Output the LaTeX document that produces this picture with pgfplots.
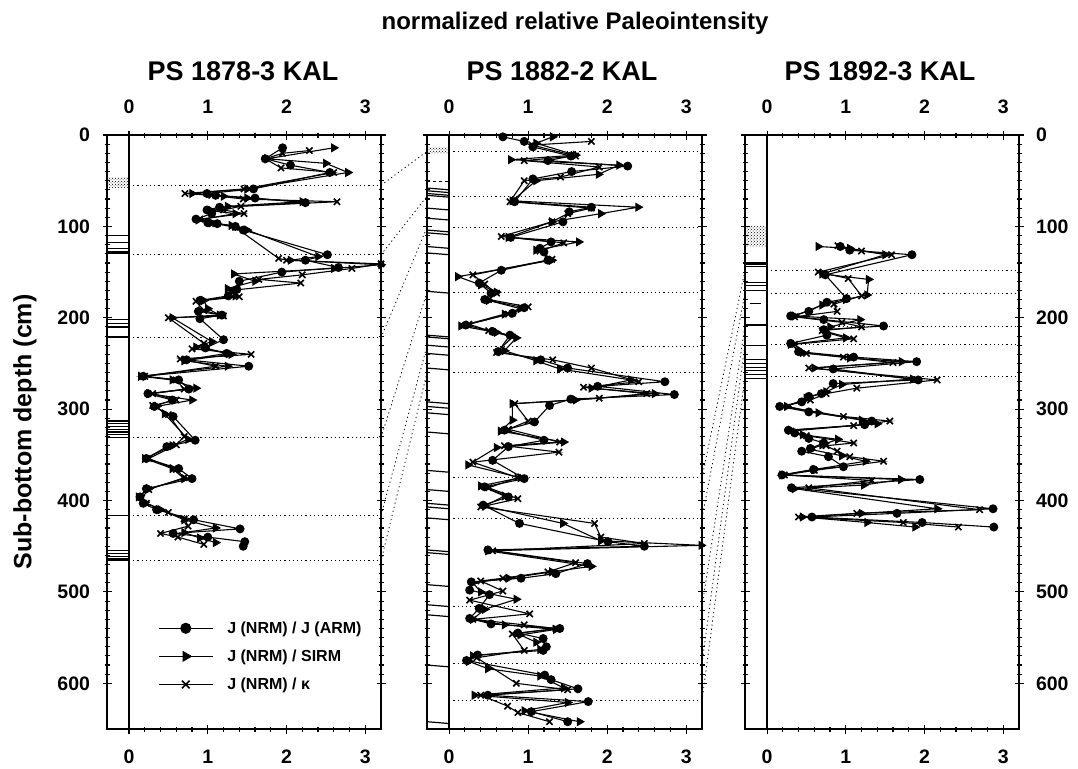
\documentclass[border=0pt]{standalone}
\usepackage{fontspec}
\setmainfont{Liberation Sans}
\usepackage{pgfplots}
\pgfplotsset{compat=1.18}
\usetikzlibrary{patterns}

\tikzset{
  corr/.style={black, line width=0.8pt, dash pattern=on 1.2pt off 3pt},
  litho/.style={black, line width=1.2pt},
}
\pgfplotsset{
  panel/.style={
    scale only axis, width=274pt, height=594pt,
    xmin=-0.28, xmax=3.2, ymin=0, ymax=650, y dir=reverse,
    xtick={0,1,2,3}, minor x tick num=4,
    ytick={0,100,...,600}, minor y tick num=9,
    tick align=center, major tick length=9pt, minor tick length=5pt,
    axis line style={line width=1.4pt},
    every tick/.style={black, line width=1.1pt},
    /pgf/number format/assume math mode=true,
    tick label style={font=\bfseries\fontsize{19.5}{20}\selectfont},
    xticklabel shift=13pt, yticklabel shift=9pt,
    clip=false,
  },
  toplabels/.style={
    panel, axis x line*=top, axis y line=none, xticklabel shift=13pt,
  },
  armS/.style={black, line width=1.1pt, mark=*, mark size=3.9pt},
  sirmS/.style={black, line width=1.1pt, mark=triangle*, mark size=4.3pt, mark options={rotate=-90}},
  kapS/.style={black, line width=1.1pt, mark=x, mark size=4.4pt, mark options={line width=1.6pt}},
}

\begin{document}
\begin{tikzpicture}[x=1pt,y=1pt]
\useasboundingbox (0,0) rectangle (1078,-768);

\node[font=\bfseries\fontsize{24}{24}\selectfont, anchor=base] at (575,-30) {normalized relative Paleointensity};
\node[font=\bfseries\fontsize{27}{27}\selectfont, anchor=base] at (243,-80) {PS 1878-3 KAL};
\node[font=\bfseries\fontsize{27}{27}\selectfont, anchor=base] at (562,-80) {PS 1882-2 KAL};
\node[font=\bfseries\fontsize{27}{27}\selectfont, anchor=base] at (880,-80) {PS 1892-3 KAL};
\node[rotate=90, font=\bfseries\fontsize{25}{25}\selectfont] at (25,-432) {Sub-bottom depth (cm)};

% ---------------- PS 1878-3 KAL ----------------
\begin{axis}[toplabels, at={(107pt,-729pt)}, anchor=south west]
\addplot[draw=none] coordinates {(0,0)};
\end{axis}
\begin{axis}[panel, at={(107pt,-729pt)}, anchor=south west,
  legend style={at={(axis cs:0.33,528)}, anchor=north west, draw=none, fill=none,
    font=\bfseries\fontsize{16}{16}\selectfont, row sep=11pt,
    /tikz/every odd column/.append style={column sep=12pt}},
  legend cell align=left,
  legend image code/.code={\draw[mark repeat=2,mark phase=2] plot coordinates {(0pt,0pt) (27pt,0pt) (54pt,0pt)};}]
% core description column
\fill[pattern=crosshatch dots] (axis cs:-0.28,47) rectangle (axis cs:0,57);
\pgfplotsinvokeforeach{110,118,124,128,130,202,206,210,221,313,316,319,322,325,328,331,416,455,458,461,464,466}{
  \draw[litho] (axis cs:-0.28,#1) -- (axis cs:0,#1);
}
\draw[line width=1.4pt] (axis cs:0,0) -- (axis cs:0,650);
\pgfplotsinvokeforeach{55,131,222,331,416,466}{
  \draw[corr] (axis cs:0,#1) -- (axis cs:3.2,#1);
  \coordinate (A-#1) at (axis cs:3.2,#1);
}
\addplot[armS, forget plot] coordinates {
(1.95,14) (1.73,26) (2.05,33) (2.55,41) (1.58,59) (0.99,64) (1.10,66) (1.60,69)
(2.24,74) (1.15,79) (0.99,82) (1.05,86) (0.85,92) (1.00,96) (1.12,97) (1.35,100)
(1.45,104) (2.52,131) (2.24,137) (2.66,145) (1.94,150) (1.40,160) (1.37,169) (1.26,176)
(0.90,181) (0.88,193) (1.18,197) (0.90,201) (1.20,224) (0.97,233) (1.24,239) (0.73,246)
(1.52,253) (0.18,264) (0.63,268) (0.76,278) (0.24,283) (0.55,290) (0.32,297) (0.56,308)
(0.84,334) (0.48,341) (0.22,354) (0.63,365) (0.80,376) (0.22,387) (0.14,396) (0.18,403)
(0.35,410) (0.82,421) (1.41,431) (0.56,436) (1.00,440) (1.47,445) (1.45,450)};
\addplot[sirmS, forget plot] coordinates {
(2.60,14) (1.75,26) (2.50,31) (2.78,41) (1.50,59) (0.80,64) (1.20,67) (1.50,69)
(2.20,73) (1.25,78) (1.05,83) (1.35,86) (0.88,93) (1.05,96) (1.30,99) (1.50,104)
(2.40,133) (2.05,137) (3.20,142) (2.60,146) (1.33,152) (1.60,160) (1.25,168) (1.35,176)
(0.95,181) (1.00,190) (1.15,197) (0.55,200) (1.05,226) (0.85,232) (1.30,240) (0.70,247)
(1.25,253) (0.15,264) (0.55,268) (0.85,277) (0.25,283) (0.80,290) (0.35,297) (0.45,305)
(0.75,333) (0.55,340) (0.20,354) (0.55,365) (0.70,376) (0.25,387) (0.12,396) (0.20,402)
(0.40,410) (0.70,421) (1.10,430) (0.70,435) (0.90,441) (1.10,446)};
\addplot[kapS, forget plot] coordinates {
(2.29,17) (1.95,20) (1.73,26) (1.93,36) (2.60,41) (1.46,59) (0.71,64) (1.05,66)
(1.45,70) (2.64,73) (1.42,78) (1.20,82) (1.46,86) (0.90,92) (1.10,97) (1.35,101)
(1.90,135) (2.00,137) (3.20,141) (2.83,146) (2.20,153) (1.65,158) (2.18,162) (1.30,170)
(1.40,177) (0.85,182) (0.95,192) (1.20,198) (0.50,200) (0.95,228) (0.80,234) (1.55,240)
(0.65,245) (1.10,253) (0.20,264) (0.60,268) (0.70,278) (0.30,283) (0.60,290) (0.30,296)
(0.50,306) (0.70,330) (0.60,339) (0.25,354) (0.60,366) (0.70,375) (0.25,388) (0.16,397)
(0.22,403) (0.50,413) (0.70,420) (0.75,428) (0.40,436) (0.62,440) (0.95,448)};
\addlegendimage{armS, mark size=5pt}
\addlegendentry{J (NRM) / J (ARM)}
\addlegendimage{sirmS, mark size=5.4pt}
\addlegendentry{J (NRM) / SIRM}
\addlegendimage{kapS, mark size=5.4pt}
\addlegendentry{J (NRM) / κ}
\end{axis}

% ---------------- PS 1882-2 KAL ----------------
\begin{axis}[toplabels, at={(427pt,-729pt)}, anchor=south west, width=275pt]
\addplot[draw=none] coordinates {(0,0)};
\end{axis}
\begin{axis}[panel, at={(427pt,-729pt)}, anchor=south west, width=275pt, yticklabels={}]
\fill[pattern=crosshatch dots] (axis cs:-0.28,14) rectangle (axis cs:0,20);
\draw[litho, dashed] (axis cs:-0.28,51) -- (axis cs:0,51);
\pgfplotsinvokeforeach{58,61,64,66,80,91,104,107,122,129,171,219,221,230,239,255,292,297,304,325,367,388,403,407,419,454,457,492,514,525,580,642}{
  \draw[litho] (axis cs:-0.28,#1) -- (axis cs:0,#1+2);
}
\draw[line width=1.4pt] (axis cs:0,0) -- (axis cs:0,650);
\pgfplotsinvokeforeach{18,67,101,172,231,260,375,419,516,578,619}{
  \draw[corr] (axis cs:0,#1) -- (axis cs:3.2,#1);
  \coordinate (BL-#1) at (axis cs:-0.28,#1);
  \coordinate (BR-#1) at (axis cs:3.2,#1);
}
\addplot[armS] coordinates {
(0.68,2) (0.95,7) (1.06,13) (1.54,23) (1.25,28) (2.26,34) (1.55,40) (1.06,48)
(0.83,73) (1.80,79) (1.52,84) (1.44,95) (0.78,112) (1.29,117) (1.15,124) (1.20,128)
(1.25,137) (0.66,148) (0.38,162) (0.53,173) (0.45,180) (0.95,189) (0.80,195) (0.21,208)
(0.55,215) (0.77,219) (0.62,237) (1.16,246) (1.50,255) (2.73,270) (1.88,275) (2.85,284)
(1.54,289) (1.27,296) (1.08,314) (0.70,323) (1.20,334) (0.75,341) (0.55,356) (0.95,376)
(0.45,385) (0.75,396) (0.43,405) (0.89,425) (2.01,445) (2.47,450) (0.49,454) (1.75,469)
(1.35,480) (0.91,485) (0.28,489) (0.26,498) (0.51,503) (0.38,518) (0.26,529) (0.53,535)
(1.40,540) (0.87,545) (1.19,551) (1.23,560) (1.19,564) (0.36,569) (0.22,575) (1.21,591)
(1.29,596) (1.63,606) (0.49,613) (1.76,620) (1.04,631) (1.50,642)};
\addplot[sirmS] coordinates {
(1.31,2) (1.10,9) (1.60,22) (0.78,27) (2.15,33) (1.89,43) (1.10,50) (0.80,72)
(2.39,79) (1.92,86) (1.30,95) (0.75,112) (1.64,117) (1.10,126) (1.30,137) (0.11,155)
(0.40,164) (0.60,172) (0.50,181) (0.90,190) (0.70,196) (0.15,209) (0.60,216) (0.85,222)
(0.70,236) (1.10,247) (1.40,256) (2.30,268) (1.80,277) (2.60,283) (1.60,290) (0.80,294)
(0.80,312) (0.65,324) (1.45,336) (0.60,342) (0.24,361) (0.90,375) (0.40,384) (0.70,395)
(0.45,406) (1.44,425) (1.92,444) (3.19,449) (0.49,455) (1.80,472) (1.30,478) (0.75,485)
(0.30,490) (0.40,500) (0.85,508) (0.45,519) (0.30,530) (0.70,536) (1.35,541) (0.90,547)
(1.10,555) (1.15,563) (0.30,570) (0.25,576) (0.49,584) (1.15,592) (1.45,605) (0.32,613)
(1.50,621) (0.95,630) (1.65,642)};
\addplot[kapS] coordinates {
(1.80,7) (1.05,11) (1.60,23) (0.95,28) (1.90,35) (1.41,46) (0.95,50) (0.77,73)
(1.80,80) (1.50,86) (1.30,95) (0.66,111) (1.45,118) (1.15,127) (1.30,136) (0.30,153)
(0.45,163) (0.60,173) (0.50,180) (1.00,188) (0.75,196) (0.25,207) (0.50,214) (0.80,221)
(0.60,238) (1.31,246) (1.80,255) (2.40,270) (1.70,276) (2.50,283) (1.90,288) (0.83,294)
(1.00,313) (0.75,322) (1.40,336) (0.70,340) (1.39,347) (0.30,358) (0.87,375) (0.50,386)
(0.87,398) (0.40,407) (1.84,425) (1.92,440) (2.47,447) (0.55,455) (1.60,468) (1.25,478)
(0.68,485) (0.40,488) (0.68,499) (0.26,509) (1.02,524) (0.30,530) (0.95,536) (1.35,540)
(0.80,546) (0.95,564) (0.35,572) (0.85,600) (1.50,607) (0.40,613) (0.74,625) (0.87,632)
(1.27,642)};
\end{axis}

% ---------------- PS 1892-3 KAL ----------------
\begin{axis}[toplabels, at={(745pt,-729pt)}, anchor=south west]
\addplot[draw=none] coordinates {(0,0)};
\end{axis}
\begin{axis}[panel, at={(745pt,-729pt)}, anchor=south west, yticklabel pos=right]
\fill[pattern=crosshatch dots] (axis cs:-0.28,100) rectangle (axis cs:0,122);
\pgfplotsinvokeforeach{140,142,144,161,165,170,208,230,246,250,254,258,262,266}{
  \draw[litho] (axis cs:-0.28,#1) -- (axis cs:0,#1);
}
\draw[litho] (axis cs:-0.22,184) -- (axis cs:-0.08,184);
\draw[line width=1.4pt] (axis cs:0,0) -- (axis cs:0,650);
\pgfplotsinvokeforeach{148,173,209,229,264}{
  \draw[corr] (axis cs:0,#1) -- (axis cs:3.2,#1);
  \coordinate (C-#1) at (axis cs:-0.28,#1);
}
\addplot[armS] coordinates {
(0.93,122) (1.05,126) (1.84,131) (0.74,153) (1.01,179) (0.76,183) (0.53,193) (0.30,198)
(0.72,202) (1.48,209) (0.72,213) (0.76,219) (0.30,228) (0.40,237) (1.10,243) (1.90,248)
(0.84,256) (1.92,268) (0.84,272) (0.69,283) (0.53,286) (0.44,292) (0.16,297) (0.53,303)
(1.33,313) (1.24,317) (0.27,323) (0.35,326) (0.53,332) (0.72,337) (0.55,343) (0.44,346)
(0.78,352) (0.97,363) (0.59,366) (0.19,372) (1.94,377) (0.31,386) (2.87,409) (1.65,414)
(0.57,418) (1.97,424) (2.88,429)};
\addplot[sirmS] coordinates {
(0.65,122) (1.05,124) (1.50,131) (0.70,152) (1.29,158) (1.27,175) (1.00,180) (0.70,186)
(0.35,198) (1.18,202) (0.80,210) (0.75,216) (1.00,222) (0.30,229) (0.45,238) (1.05,244)
(1.71,248) (0.60,255) (1.85,267) (0.95,273) (0.75,281) (0.50,288) (0.25,297) (0.65,304)
(1.20,312) (1.40,316) (0.30,323) (0.45,328) (0.90,333) (0.70,339) (0.55,344) (0.95,351)
(1.25,357) (0.60,366) (0.19,372) (1.70,377) (1.23,383) (0.35,387) (2.16,409) (1.20,414)
(0.45,418) (1.27,424) (1.88,429)};
\addplot[kapS] coordinates {
(0.90,121) (1.20,127) (1.58,131) (0.65,150) (1.03,157) (1.20,176) (0.85,185) (0.89,193)
(0.35,199) (0.95,205) (1.20,210) (0.70,214) (1.10,223) (0.35,229) (0.50,239) (0.97,243)
(1.60,249) (0.53,255) (2.16,268) (1.14,277) (0.75,283) (0.55,290) (0.20,297) (0.97,308)
(1.56,313) (1.10,318) (0.30,324) (0.50,329) (1.10,337) (0.75,340) (0.89,346) (1.05,352)
(1.48,357) (0.60,367) (0.22,372) (1.33,378) (0.53,386) (2.70,410) (1.14,414) (0.40,418)
(1.73,424) (2.43,429)};
\end{axis}

% tie lines between the cores
\draw[corr] (A-55) -- (BL-18);
\draw[corr] (A-131) -- (BL-67);
\draw[corr] (A-222) -- (BL-101);
\draw[corr] (A-331) -- (BL-172);
\draw[corr] (A-416) -- (BL-231);
\draw[corr] (A-466) -- (BL-260);
\draw[corr] (BR-375) -- (C-148);
\draw[corr] (BR-419) -- (C-173);
\draw[corr] (BR-516) -- (C-209);
\draw[corr] (BR-578) -- (C-229);
\draw[corr] (BR-619) -- (C-264);
\end{tikzpicture}
\end{document}
